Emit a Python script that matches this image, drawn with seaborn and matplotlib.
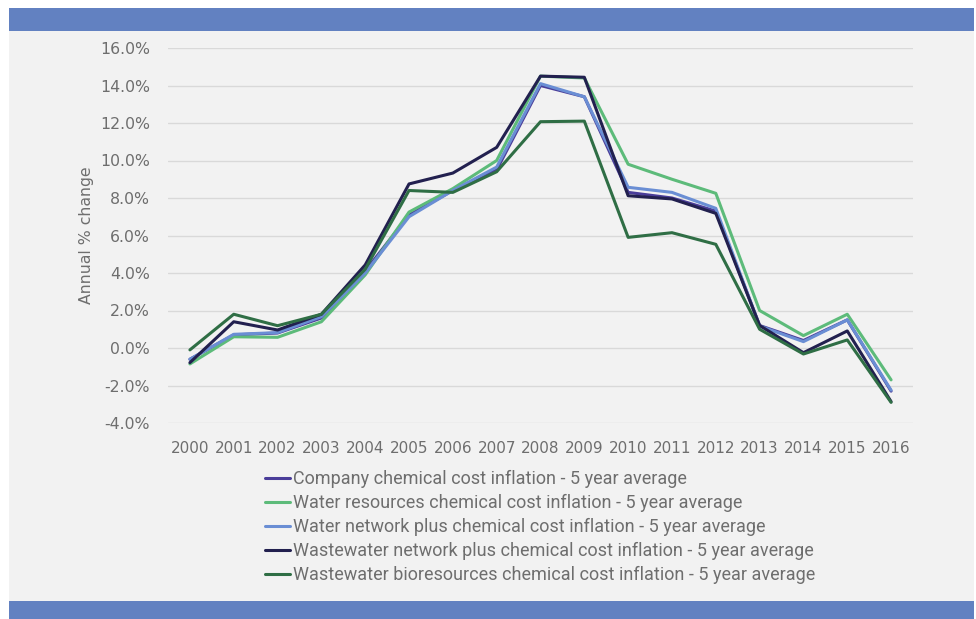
import numpy as np
import pandas as pd
import seaborn as sns
import matplotlib.pyplot as plt
from matplotlib.patches import Rectangle
from matplotlib.ticker import FuncFormatter

years = list(range(2000, 2017))

company = [-0.6, 0.7, 0.8, 1.6, 4.1, 7.1, 8.4, 9.5, 14.0, 13.4, 8.3, 8.0, 7.3, 1.2, 0.4, 1.5, -2.3]
water_resources = [-0.85, 0.6, 0.57, 1.4, 3.9, 7.25, 8.5, 10.0, 14.5, 14.4, 9.8, 9.0, 8.25, 2.0, 0.66, 1.8, -1.7]
water_network = [-0.6, 0.73, 0.82, 1.67, 4.0, 7.0, 8.4, 9.65, 14.1, 13.4, 8.57, 8.3, 7.45, 1.17, 0.34, 1.5, -2.25]
wastewater_network = [-0.78, 1.4, 0.96, 1.8, 4.43, 8.75, 9.33, 10.7, 14.5, 14.44, 8.12, 7.95, 7.18, 1.2, -0.25, 0.91, -2.86]
bioresources = [-0.1, 1.8, 1.19, 1.8, 4.2, 8.4, 8.3, 9.4, 12.07, 12.1, 5.9, 6.15, 5.53, 1.0, -0.32, 0.43, -2.9]

names = [
    "Company chemical cost inflation - 5 year average",
    "Water resources chemical cost inflation - 5 year average",
    "Water network plus chemical cost inflation - 5 year average",
    "Wastewater network plus chemical cost inflation - 5 year average",
    "Wastewater bioresources chemical cost inflation - 5 year average",
]
colors = ["#4A3D99", "#5DBB7A", "#6A8ED4", "#22204F", "#2F6E45"]

series = [company, water_resources, water_network, wastewater_network, bioresources]
rows = []
for name, vals in zip(names, series):
    for i, v in enumerate(vals):
        rows.append({"pos": i, "value": v, "series": name})
df = pd.DataFrame(rows)

sns.set_theme(style="white")
plt.rcParams['font.family'] = ['DejaVu Sans']

fig = plt.figure(figsize=(9.76, 6.19), dpi=100, facecolor="white")
W, H = 976, 619
# panel background and blue bands
for x0, y0, w, h, c in [(9, 1 - 601 / H, 965, 570 / H, "#F2F2F2"),
                        (9, 1 - 31 / H, 965, 23 / H, "#6281C1"),
                        (9, 0, 965, 18 / H, "#6281C1")]:
    fig.patches.append(Rectangle((x0 / W, y0), w / W, h, transform=fig.transFigure,
                                 facecolor=c, edgecolor="none", zorder=-10))

ax = fig.add_axes([168 / W, 1 - 423 / H, 745 / W, 375 / H])
ax.set_facecolor("none")

sns.lineplot(data=df, x="pos", y="value", hue="series", hue_order=names,
             palette=colors, linewidth=2.2, ax=ax, legend=False)

ax.set_xlim(-0.5, len(years) - 0.5)
ax.set_ylim(-4, 16)
ax.set_yticks(np.arange(-4, 17, 2))
ax.yaxis.set_major_formatter(FuncFormatter(lambda v, p: f"{v:.1f}%"))
ax.set_xticks(range(len(years)))
ax.set_xticklabels([str(y) for y in years])
ax.grid(axis="y", color="#D9D9D9", linewidth=1)
ax.set_axisbelow(True)
for s in ax.spines.values():
    s.set_visible(False)
ax.tick_params(axis="y", length=0, pad=13, labelsize=11.3, labelcolor="#6E6E6E")
ax.tick_params(axis="x", length=0, pad=13, labelsize=11, labelcolor="#6E6E6E")
ax.set_xlabel("")
ax.set_ylabel("Annual % change", fontsize=11.3, color="#6E6E6E")
ax.yaxis.set_label_coords(-0.1, 0.5)

handles = [plt.Line2D([], [], color=c, linewidth=2.2) for c in colors]
leg = fig.legend(handles, names, loc="upper left", bbox_to_anchor=(265 / W, 1 - 470 / H),
                 frameon=False, handlelength=1.4, handletextpad=0.15, labelspacing=0.33,
                 borderaxespad=0, borderpad=0,
                 prop={"family": "Roboto", "size": 13})
for t in leg.get_texts():
    t.set_color("#6E6E6E")

fig.savefig("out.png", dpi=100, facecolor="white")
